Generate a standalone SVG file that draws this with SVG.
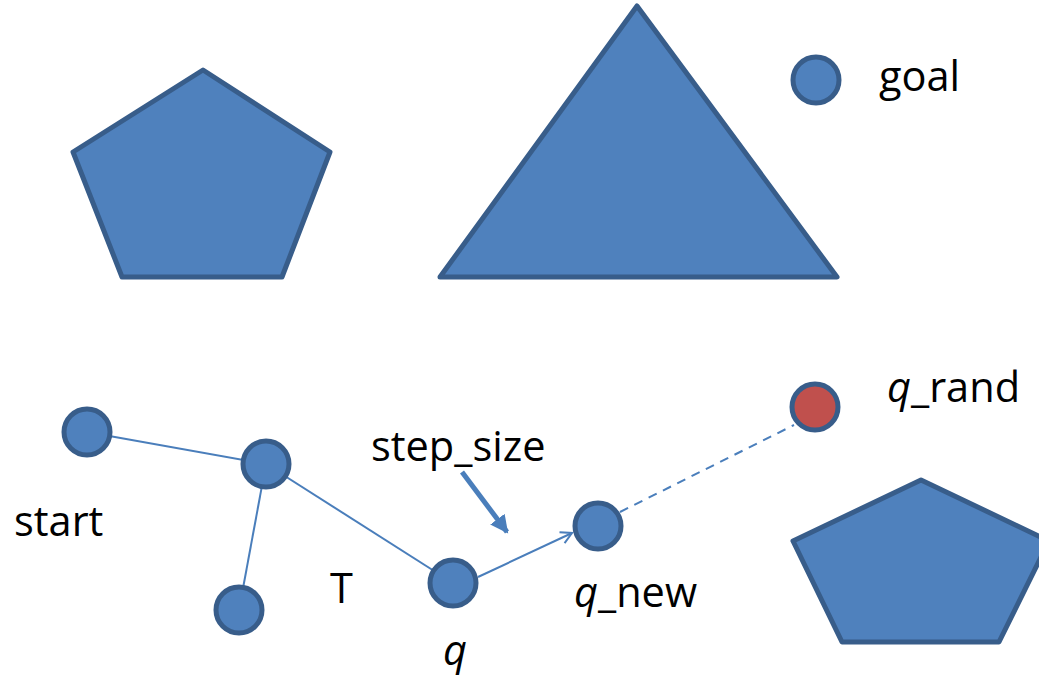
<svg xmlns="http://www.w3.org/2000/svg" width="1039" height="680" viewBox="0 0 1039 680">
<style>
.shape{fill:#4F81BD;stroke:#385D8A;stroke-width:5;stroke-linejoin:round}
.red{fill:#C0504D;stroke:#385D8A;stroke-width:5}
.edge{stroke:#4A7EBB;stroke-width:2;fill:none}
.lbl{font-family:"Open Sans","Liberation Sans",sans-serif;font-size:41.5px;fill:#000}
.it{font-style:italic}
</style>
<defs>
<marker id="open" markerWidth="14" markerHeight="14" refX="12" refY="7" orient="auto" markerUnits="userSpaceOnUse">
<path d="M1,1 L12,7 L1,13" fill="none" stroke="#4A7EBB" stroke-width="2"/>
</marker>
<marker id="solid" markerWidth="20" markerHeight="20" refX="16" refY="10" orient="auto" markerUnits="userSpaceOnUse">
<path d="M0,1 L18,10 L0,19 Z" fill="#4A7EBB"/>
</marker>
</defs>
<g id="obstacles">
<polygon id="pentagon1" class="shape" points="203,70 330,152 282,277 122,277 73,152"/>
<polygon id="triangle" class="shape" points="637,6 837,277 440,277"/>
<polygon id="pentagon2" class="shape" points="921,480 1049,541 999,642 842,642 793,541"/>
</g>
<g id="connectors">
<line class="edge" x1="87" y1="432" x2="266" y2="464"/>
<line class="edge" x1="266" y1="464" x2="239" y2="610"/>
<line class="edge" x1="266" y1="464" x2="453" y2="583"/>
<line class="edge" x1="478" y1="577" x2="572" y2="533" marker-end="url(#open)"/>
<line class="edge" x1="620" y1="512" x2="794" y2="425" stroke-dasharray="9,7"/>
<line x1="462" y1="472" x2="507" y2="532" stroke="#4A7EBB" stroke-width="5" marker-end="url(#solid)"/>
</g>
<g id="start"><circle class="shape" cx="87" cy="432" r="23"/></g>
<g id="node2"><circle class="shape" cx="266" cy="464" r="23"/></g>
<g id="node3"><circle class="shape" cx="239" cy="610" r="23"/></g>
<g id="q"><circle class="shape" cx="453" cy="583" r="23"/></g>
<g id="q_new"><circle class="shape" cx="598" cy="526" r="23"/></g>
<g id="q_rand"><circle class="red" cx="815" cy="407" r="23"/></g>
<g id="goal"><circle class="shape" cx="816" cy="80" r="23"/></g>
<g id="labels">
<text class="lbl" x="879" y="91">goal</text>
<text class="lbl" x="887" y="402"><tspan class="it">q</tspan>_rand</text>
<text class="lbl" x="371" y="461">step_size</text>
<text class="lbl" x="14" y="536">start</text>
<text class="lbl" x="330" y="603">T</text>
<text class="lbl" x="574" y="607"><tspan class="it">q</tspan>_new</text>
<text class="lbl it" x="443" y="665">q</text>
</g>
</svg>
